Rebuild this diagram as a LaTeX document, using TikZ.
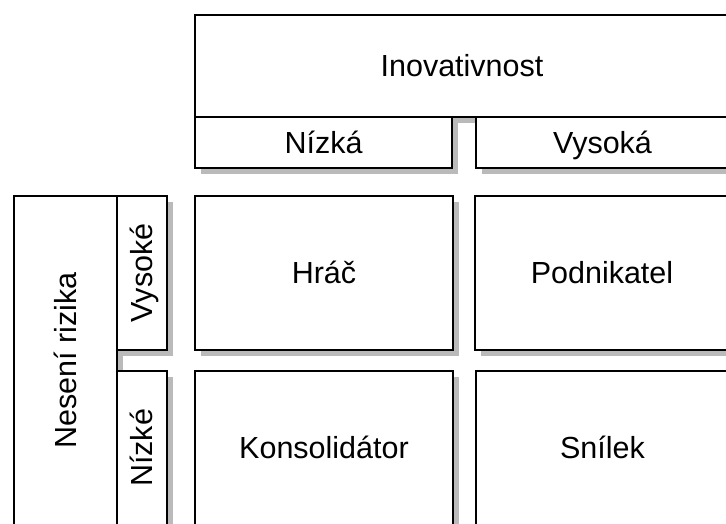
\documentclass[tikz,border=0pt]{standalone}
\usepackage{fontspec}
\setmainfont{Liberation Sans}
\usetikzlibrary{shadows}
\newcommand\cellfont{\fontsize{30.5}{36}\selectfont}
\tikzset{
  cell/.style={draw=black, line width=2pt, fill=white, inner sep=0pt,
    anchor=north west, font=\cellfont, text height=21.8pt, text depth=0pt,
    drop shadow={shadow xshift=6pt, shadow yshift=-6pt, fill=black!27, opacity=1}},
  vlabel/.style={rotate=90, font=\cellfont, inner sep=0pt,
    text height=21.8pt, text depth=0pt}
}
\begin{document}
\begin{tikzpicture}[x=1pt, y=-1pt]
  \useasboundingbox (0,0) rectangle (726,523);
  \clip (0,0) rectangle (726,523);

  % column header: innovativeness
  \node[cell, minimum width=534pt, minimum height=102pt] (inov) at (194,14) {Inovativnost};
  \node[cell, minimum width=257pt, minimum height=50.5pt] (nizka) at (194,116) {Nízká};
  \node[cell, minimum width=253pt, minimum height=50.5pt] (vysoka) at (475,116) {Vysoká};

  % row header: risk taking
  \node[cell, minimum width=103pt, minimum height=329pt] (riziko) at (13,195) {};
  \node[vlabel] at (riziko.center) {Nesení rizika};
  \node[cell, minimum width=50pt, minimum height=154pt] (vysoke) at (116,195) {};
  \node[vlabel] at (vysoke.center) {Vysoké};
  \node[cell, minimum width=50pt, minimum height=154pt] (nizke) at (116,370) {};
  \node[vlabel] at (nizke.center) {Nízké};

  % the four quadrants
  \node[cell, minimum width=258pt, minimum height=154pt] (hrac) at (194,195) {Hráč};
  \node[cell, minimum width=254pt, minimum height=154pt] (podnikatel) at (474,195) {Podnikatel};
  \node[cell, minimum width=258pt, minimum height=154pt] (konsolidator) at (194,370) {Konsolidátor};
  \node[cell, minimum width=253pt, minimum height=154pt] (snilek) at (475,370) {Snílek};
\end{tikzpicture}
\end{document}
